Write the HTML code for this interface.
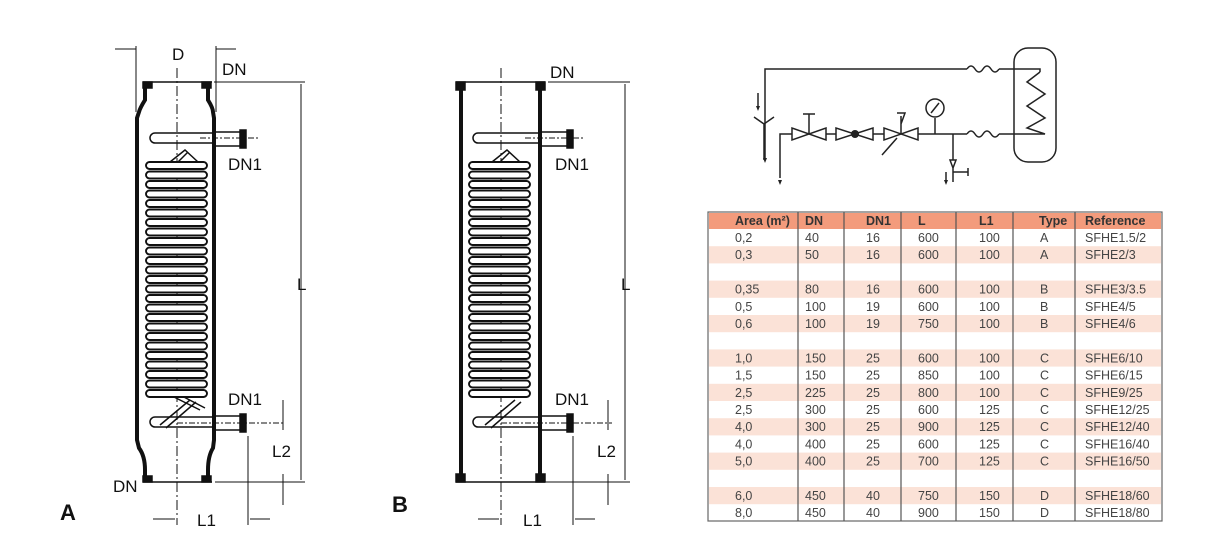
<!DOCTYPE html>
<html><head><meta charset="utf-8"><style>
body{margin:0;background:#fff;}
svg{display:block;font-family:"Liberation Sans",Arial,sans-serif;}
</style></head><body>
<svg width="1217" height="559" viewBox="0 0 1217 559" xmlns="http://www.w3.org/2000/svg">
<!-- ===== Drawing A ===== -->
<g stroke="#111" fill="none" stroke-width="1.5">
  <path d="M145 82 L145 100 Q140 108 139 112 L137 118 L137 440 L139 448 Q145 456 145 470 L145 482" stroke-width="4"/>
  <path d="M208 82 L208 100 Q213 108 213 112 L214 118 L214 440 L213 448 Q208 456 208 470 L208 482" stroke-width="4"/>
  <line x1="143" y1="82" x2="212" y2="82"/>
  <line x1="143" y1="482" x2="212" y2="482"/>
  <rect x="143" y="82" width="9" height="6" fill="#111"/>
  <rect x="202" y="82" width="9" height="6" fill="#111"/>
  <rect x="143" y="476" width="9" height="6" fill="#111"/>
  <rect x="202" y="476" width="9" height="6" fill="#111"/>
  <path d="M214 132 L245 132 L245 146 L214 146"/>
  <rect x="240" y="130" width="6" height="18" fill="#111"/>
  <path d="M214 133 L155 133 A5 5 0 0 0 155 143 L214 143"/>
  <path d="M214 416 L245 416 L245 430 L214 430"/>
  <rect x="240" y="414" width="6" height="18" fill="#111"/>
  <path d="M214 417 L155 417 A5 5 0 0 0 155 427 L214 427"/>
  <path d="M160 425 L190 400 M166 428 L196 402" />
  <path d="M170 162 L185 150 L198 162 M178 162 L188 152" />
  <path d="M170 395 L200 410 M180 395 L205 408"/>
  <line x1="177" y1="68" x2="177" y2="525" stroke-dasharray="10,3,2,3" stroke-width="1"/>
  <line x1="200" y1="138" x2="258" y2="138" stroke-dasharray="6,2,2,2" stroke-width="1"/>
  <line x1="177" y1="423" x2="285" y2="423" stroke-dasharray="6,2,2,2" stroke-width="1"/>
  <line x1="136" y1="46" x2="136" y2="112" stroke-width="1"/>
  <line x1="216" y1="46" x2="216" y2="112" stroke-width="1"/>
  <line x1="115" y1="49" x2="136" y2="49" stroke-width="1"/>
  <line x1="216" y1="49" x2="236" y2="49" stroke-width="1"/>
  <line x1="214" y1="82" x2="305" y2="82" stroke-width="1"/>
  <line x1="215" y1="482" x2="305" y2="482" stroke-width="1"/>
  <line x1="301" y1="84" x2="301" y2="480" stroke-width="1"/>
  <line x1="248" y1="436" x2="248" y2="525" stroke-width="1"/>
  <line x1="283" y1="400" x2="283" y2="430" stroke-width="1"/>
  <line x1="283" y1="474" x2="283" y2="505" stroke-width="1"/>
  <line x1="153" y1="519" x2="175" y2="519" stroke-width="1"/>
  <line x1="250" y1="519" x2="270" y2="519" stroke-width="1"/>
</g>
<g id="coil" stroke="#111" stroke-width="1.9" fill="#fff">
  <rect x="146" y="162" width="61" height="7" rx="3.5"/>
  <rect x="146" y="171.5" width="61" height="7" rx="3.5"/>
  <rect x="146" y="181" width="61" height="7" rx="3.5"/>
  <rect x="146" y="190.5" width="61" height="7" rx="3.5"/>
  <rect x="146" y="200" width="61" height="7" rx="3.5"/>
  <rect x="146" y="209.5" width="61" height="7" rx="3.5"/>
  <rect x="146" y="219" width="61" height="7" rx="3.5"/>
  <rect x="146" y="228.5" width="61" height="7" rx="3.5"/>
  <rect x="146" y="238" width="61" height="7" rx="3.5"/>
  <rect x="146" y="247.5" width="61" height="7" rx="3.5"/>
  <rect x="146" y="257" width="61" height="7" rx="3.5"/>
  <rect x="146" y="266.5" width="61" height="7" rx="3.5"/>
  <rect x="146" y="276" width="61" height="7" rx="3.5"/>
  <rect x="146" y="285.5" width="61" height="7" rx="3.5"/>
  <rect x="146" y="295" width="61" height="7" rx="3.5"/>
  <rect x="146" y="304.5" width="61" height="7" rx="3.5"/>
  <rect x="146" y="314" width="61" height="7" rx="3.5"/>
  <rect x="146" y="323.5" width="61" height="7" rx="3.5"/>
  <rect x="146" y="333" width="61" height="7" rx="3.5"/>
  <rect x="146" y="342.5" width="61" height="7" rx="3.5"/>
  <rect x="146" y="352" width="61" height="7" rx="3.5"/>
  <rect x="146" y="361.5" width="61" height="7" rx="3.5"/>
  <rect x="146" y="371" width="61" height="7" rx="3.5"/>
  <rect x="146" y="380.5" width="61" height="7" rx="3.5"/>
  <rect x="146" y="390" width="61" height="7" rx="3.5"/>
</g>
<g font-size="17" fill="#111">
  <text x="172" y="60">D</text>
  <text x="222" y="75">DN</text>
  <text x="228" y="170">DN1</text>
  <text x="228" y="405">DN1</text>
  <text x="272" y="457">L2</text>
  <text x="297" y="290">L</text>
  <text x="197" y="526">L1</text>
  <text x="113" y="492">DN</text>
  <text x="60" y="520" font-size="22" font-weight="bold">A</text>
</g>

<!-- ===== Drawing B ===== -->
<g stroke="#111" fill="none" stroke-width="1.5">
  <line x1="461" y1="82" x2="461" y2="482" stroke-width="4"/>
  <line x1="540" y1="82" x2="540" y2="482" stroke-width="4"/>
  <line x1="456" y1="82" x2="545" y2="82"/>
  <line x1="456" y1="482" x2="545" y2="482"/>
  <rect x="456" y="82" width="9" height="8" fill="#111"/>
  <rect x="536" y="82" width="9" height="8" fill="#111"/>
  <rect x="456" y="474" width="9" height="8" fill="#111"/>
  <rect x="536" y="474" width="9" height="8" fill="#111"/>
  <path d="M540 132 L572 132 L572 146 L540 146"/>
  <rect x="567" y="130" width="6" height="18" fill="#111"/>
  <path d="M540 133 L478 133 A5 5 0 0 0 478 143 L540 143"/>
  <path d="M540 416 L572 416 L572 430 L540 430"/>
  <rect x="567" y="414" width="6" height="18" fill="#111"/>
  <path d="M540 417 L478 417 A5 5 0 0 0 478 427 L540 427"/>
  <path d="M485 425 L515 400 M491 428 L521 402"/>
  <path d="M492 162 L507 150 L520 162 M500 162 L510 152"/>
  <line x1="501" y1="68" x2="501" y2="525" stroke-dasharray="10,3,2,3" stroke-width="1"/>
  <line x1="525" y1="138" x2="585" y2="138" stroke-dasharray="6,2,2,2" stroke-width="1"/>
  <line x1="501" y1="423" x2="612" y2="423" stroke-dasharray="6,2,2,2" stroke-width="1"/>
  <line x1="548" y1="82" x2="630" y2="82" stroke-width="1"/>
  <line x1="545" y1="482" x2="630" y2="482" stroke-width="1"/>
  <line x1="625" y1="84" x2="625" y2="480" stroke-width="1"/>
  <line x1="573" y1="436" x2="573" y2="525" stroke-width="1"/>
  <line x1="608" y1="400" x2="608" y2="430" stroke-width="1"/>
  <line x1="608" y1="474" x2="608" y2="505" stroke-width="1"/>
  <line x1="478" y1="519" x2="499" y2="519" stroke-width="1"/>
  <line x1="575" y1="519" x2="595" y2="519" stroke-width="1"/>
</g>
<use href="#coil" transform="translate(323,0)"/>
<g font-size="17" fill="#111">
  <text x="550" y="78">DN</text>
  <text x="555" y="170">DN1</text>
  <text x="555" y="405">DN1</text>
  <text x="597" y="457">L2</text>
  <text x="621" y="290">L</text>
  <text x="523" y="526">L1</text>
  <text x="392" y="512" font-size="22" font-weight="bold">B</text>
</g>

<!-- ===== Schematic ===== -->
<g stroke="#222" fill="none" stroke-width="1.5">
  <path d="M765 160 L765 69 L967 69"/>
  <path d="M967 69 q4 -6 8 0 q4 6 8 0 q4 -6 8 0 q4 6 8 0"/>
  <path d="M999 69 L1040 69 L1040 72"/>
  <rect x="1014" y="48" width="42" height="114" rx="14"/>
  <path d="M1040 72 L1027 82 L1045 94 L1027 106 L1045 118 L1027 128 L1045 134 L1040 134"/>
  <path d="M1014 134 L1040 134 M999 134 L1014 134"/>
  <path d="M967 134 q4 -6 8 0 q4 6 8 0 q4 -6 8 0 q4 6 8 0"/>
  <path d="M780 178 L780 134 L792 134"/>
  <path d="M792 128 L792 140 L826 128 L826 140 Z"/>
  <path d="M809 134 L809 114 M803 114 L815 114"/>
  <path d="M826 134 L836 134"/>
  <path d="M836 128 L836 140 L873 128 L873 140 Z"/>
  <path d="M873 134 L884 134"/>
  <path d="M884 128 L884 140 L918 128 L918 140 Z"/>
  <path d="M901 134 L901 116 M897 113 L905 113 L901 124 M897 138 L882 155"/>
  <path d="M918 134 L967 134"/>
  <path d="M935 134 L935 118"/>
  <circle cx="935" cy="108" r="9"/>
  <path d="M931 113 L939 103"/>
  <path d="M953 134 L953 160"/>
  <path d="M950 160 L956 160 L953 168 Z M953 168 L953 182 M953 172 L968 172 M968 168 L968 176"/>
  <path d="M754 117 L764 124 L774 117 M764 124 L764 160"/>
  <path d="M758 93 L758 108"/>
  <path d="M946 172 L946 180"/>
</g>
<circle cx="855" cy="134" r="4" fill="#222"/>
<g fill="#222">
  <path d="M756 106 L760 106 L758 111 Z"/>
  <path d="M763 158 L767 158 L765 163 Z"/>
  <path d="M778 180 L782 180 L780 185 Z"/>
  <path d="M944 180 L948 180 L946 185 Z"/>
</g>

<!-- ===== Table ===== -->
<g font-size="12.5" fill="#444">
  <rect x="708" y="212" width="454" height="309" fill="#fff" stroke="#666" stroke-width="1.2"/>
  <rect x="709" y="213" width="452" height="16" fill="#f39b7c"/>
  <rect x="709" y="246.2" width="452" height="17.2" fill="#fbe2d7"/>
  <rect x="709" y="280.6" width="452" height="17.2" fill="#fbe2d7"/>
  <rect x="709" y="315" width="452" height="17.2" fill="#fbe2d7"/>
  <rect x="709" y="349.4" width="452" height="17.2" fill="#fbe2d7"/>
  <rect x="709" y="383.8" width="452" height="17.2" fill="#fbe2d7"/>
  <rect x="709" y="418.2" width="452" height="17.2" fill="#fbe2d7"/>
  <rect x="709" y="452.6" width="452" height="17.2" fill="#fbe2d7"/>
  <rect x="709" y="487" width="452" height="17.2" fill="#fbe2d7"/>
  <g stroke="#555" stroke-width="1.2">
    <line x1="798" y1="212" x2="798" y2="521"/>
    <line x1="844" y1="212" x2="844" y2="521"/>
    <line x1="901" y1="212" x2="901" y2="521"/>
    <line x1="956" y1="212" x2="956" y2="521"/>
    <line x1="1013" y1="212" x2="1013" y2="521"/>
    <line x1="1075" y1="212" x2="1075" y2="521"/>
  </g>
  <g font-weight="bold" fill="#333">
    <text x="735" y="225">Area (m²)</text><text x="805" y="225">DN</text><text x="866" y="225">DN1</text><text x="918" y="225">L</text><text x="979" y="225">L1</text><text x="1039" y="225">Type</text><text x="1085" y="225">Reference</text>
  </g>
  <g>
    <text y="242"><tspan x="735">0,2</tspan><tspan x="805">40</tspan><tspan x="866">16</tspan><tspan x="918">600</tspan><tspan x="979">100</tspan><tspan x="1040">A</tspan><tspan x="1085">SFHE1.5/2</tspan></text>
    <text y="259.2"><tspan x="735">0,3</tspan><tspan x="805">50</tspan><tspan x="866">16</tspan><tspan x="918">600</tspan><tspan x="979">100</tspan><tspan x="1040">A</tspan><tspan x="1085">SFHE2/3</tspan></text>
    <text y="293.6"><tspan x="735">0,35</tspan><tspan x="805">80</tspan><tspan x="866">16</tspan><tspan x="918">600</tspan><tspan x="979">100</tspan><tspan x="1040">B</tspan><tspan x="1085">SFHE3/3.5</tspan></text>
    <text y="310.8"><tspan x="735">0,5</tspan><tspan x="805">100</tspan><tspan x="866">19</tspan><tspan x="918">600</tspan><tspan x="979">100</tspan><tspan x="1040">B</tspan><tspan x="1085">SFHE4/5</tspan></text>
    <text y="328"><tspan x="735">0,6</tspan><tspan x="805">100</tspan><tspan x="866">19</tspan><tspan x="918">750</tspan><tspan x="979">100</tspan><tspan x="1040">B</tspan><tspan x="1085">SFHE4/6</tspan></text>
    <text y="362.4"><tspan x="735">1,0</tspan><tspan x="805">150</tspan><tspan x="866">25</tspan><tspan x="918">600</tspan><tspan x="979">100</tspan><tspan x="1040">C</tspan><tspan x="1085">SFHE6/10</tspan></text>
    <text y="379.6"><tspan x="735">1,5</tspan><tspan x="805">150</tspan><tspan x="866">25</tspan><tspan x="918">850</tspan><tspan x="979">100</tspan><tspan x="1040">C</tspan><tspan x="1085">SFHE6/15</tspan></text>
    <text y="396.8"><tspan x="735">2,5</tspan><tspan x="805">225</tspan><tspan x="866">25</tspan><tspan x="918">800</tspan><tspan x="979">100</tspan><tspan x="1040">C</tspan><tspan x="1085">SFHE9/25</tspan></text>
    <text y="414"><tspan x="735">2,5</tspan><tspan x="805">300</tspan><tspan x="866">25</tspan><tspan x="918">600</tspan><tspan x="979">125</tspan><tspan x="1040">C</tspan><tspan x="1085">SFHE12/25</tspan></text>
    <text y="431.2"><tspan x="735">4,0</tspan><tspan x="805">300</tspan><tspan x="866">25</tspan><tspan x="918">900</tspan><tspan x="979">125</tspan><tspan x="1040">C</tspan><tspan x="1085">SFHE12/40</tspan></text>
    <text y="448.4"><tspan x="735">4,0</tspan><tspan x="805">400</tspan><tspan x="866">25</tspan><tspan x="918">600</tspan><tspan x="979">125</tspan><tspan x="1040">C</tspan><tspan x="1085">SFHE16/40</tspan></text>
    <text y="465.6"><tspan x="735">5,0</tspan><tspan x="805">400</tspan><tspan x="866">25</tspan><tspan x="918">700</tspan><tspan x="979">125</tspan><tspan x="1040">C</tspan><tspan x="1085">SFHE16/50</tspan></text>
    <text y="500"><tspan x="735">6,0</tspan><tspan x="805">450</tspan><tspan x="866">40</tspan><tspan x="918">750</tspan><tspan x="979">150</tspan><tspan x="1040">D</tspan><tspan x="1085">SFHE18/60</tspan></text>
    <text y="517.2"><tspan x="735">8,0</tspan><tspan x="805">450</tspan><tspan x="866">40</tspan><tspan x="918">900</tspan><tspan x="979">150</tspan><tspan x="1040">D</tspan><tspan x="1085">SFHE18/80</tspan></text>
  </g>
</g>
</svg>
</body></html>
